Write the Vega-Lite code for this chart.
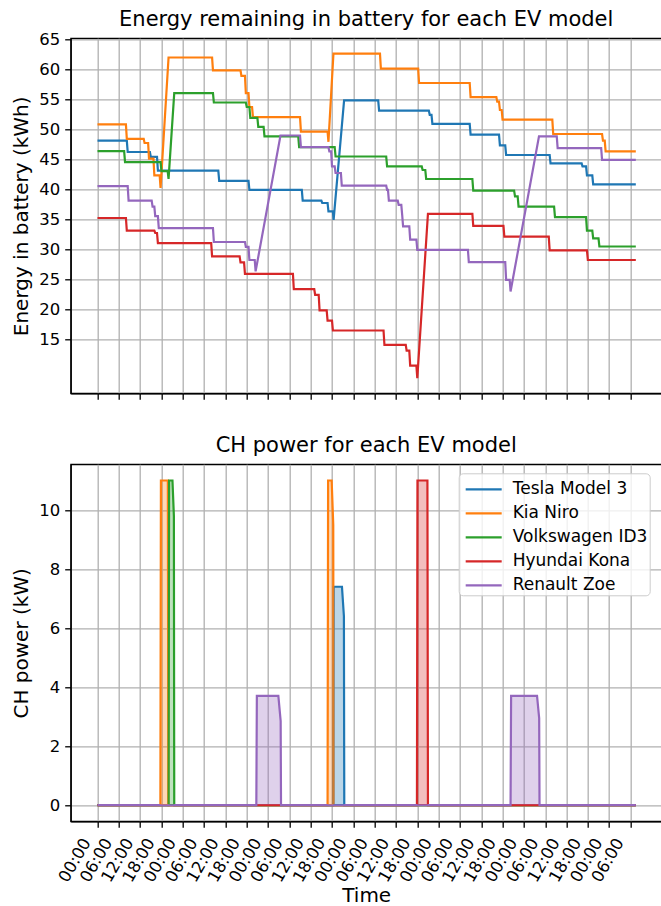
{
  "$schema": "https://vega.github.io/schema/vega-lite/v6.json",
  "background": "white",
  "padding": {"left": 10.7, "top": 7.3, "right": 0, "bottom": 0},
  "config": {
    "font": "DejaVu Sans",
    "view": {"stroke": "black", "strokeWidth": 1.3},
    "axis": {
      "domainColor": "black", "domainWidth": 1.3,
      "tickColor": "black", "tickWidth": 1.3, "tickSize": 6,
      "labelFont": "DejaVu Sans", "labelFontSize": 16.5, "labelColor": "black", "labelPadding": 5,
      "titleFont": "DejaVu Sans", "titleFontSize": 20, "titleFontWeight": "normal", "titleColor": "black",
      "gridColor": "#b0b0b0", "gridWidth": 1.3, "gridOpacity": 1
    },
    "axisY": {"titlePadding": 7},
    "title": {"font": "DejaVu Sans", "fontSize": 21, "fontWeight": "normal", "color": "black", "baseline": "alphabetic", "frame": "group"},
    "concat": {"spacing": 33}
  },
  "datasets": {
    "energy": [
      {"model": "Tesla Model 3", "hour": 0, "kwh": 48.2},
      {"model": "Tesla Model 3", "hour": 8.25, "kwh": 48.2},
      {"model": "Tesla Model 3", "hour": 8.5, "kwh": 46.3},
      {"model": "Tesla Model 3", "hour": 14.75, "kwh": 46.3},
      {"model": "Tesla Model 3", "hour": 15.0, "kwh": 45.5},
      {"model": "Tesla Model 3", "hour": 16.75, "kwh": 45.5},
      {"model": "Tesla Model 3", "hour": 17.0, "kwh": 43.2},
      {"model": "Tesla Model 3", "hour": 34.0, "kwh": 43.2},
      {"model": "Tesla Model 3", "hour": 34.25, "kwh": 41.5},
      {"model": "Tesla Model 3", "hour": 42.5, "kwh": 41.5},
      {"model": "Tesla Model 3", "hour": 42.75, "kwh": 40.0},
      {"model": "Tesla Model 3", "hour": 57.5, "kwh": 40.0},
      {"model": "Tesla Model 3", "hour": 57.75, "kwh": 38.2},
      {"model": "Tesla Model 3", "hour": 63.0, "kwh": 38.2},
      {"model": "Tesla Model 3", "hour": 63.25, "kwh": 37.8},
      {"model": "Tesla Model 3", "hour": 64.75, "kwh": 37.8},
      {"model": "Tesla Model 3", "hour": 65.0, "kwh": 36.4},
      {"model": "Tesla Model 3", "hour": 66.25, "kwh": 36.4},
      {"model": "Tesla Model 3", "hour": 66.45, "kwh": 35.0},
      {"model": "Tesla Model 3", "hour": 69.4, "kwh": 54.9},
      {"model": "Tesla Model 3", "hour": 79.0, "kwh": 54.9},
      {"model": "Tesla Model 3", "hour": 79.25, "kwh": 53.2},
      {"model": "Tesla Model 3", "hour": 93.25, "kwh": 53.2},
      {"model": "Tesla Model 3", "hour": 93.5, "kwh": 52.5},
      {"model": "Tesla Model 3", "hour": 94.0, "kwh": 52.5},
      {"model": "Tesla Model 3", "hour": 94.25, "kwh": 51.0},
      {"model": "Tesla Model 3", "hour": 104.75, "kwh": 51.0},
      {"model": "Tesla Model 3", "hour": 105.0, "kwh": 49.2},
      {"model": "Tesla Model 3", "hour": 113.0, "kwh": 49.2},
      {"model": "Tesla Model 3", "hour": 113.25, "kwh": 47.4},
      {"model": "Tesla Model 3", "hour": 114.75, "kwh": 47.4},
      {"model": "Tesla Model 3", "hour": 115.0, "kwh": 45.8},
      {"model": "Tesla Model 3", "hour": 127.25, "kwh": 45.8},
      {"model": "Tesla Model 3", "hour": 127.5, "kwh": 44.4},
      {"model": "Tesla Model 3", "hour": 136.25, "kwh": 44.4},
      {"model": "Tesla Model 3", "hour": 136.5, "kwh": 43.9},
      {"model": "Tesla Model 3", "hour": 137.5, "kwh": 43.9},
      {"model": "Tesla Model 3", "hour": 137.75, "kwh": 42.4},
      {"model": "Tesla Model 3", "hour": 139.25, "kwh": 42.4},
      {"model": "Tesla Model 3", "hour": 139.5, "kwh": 40.9},
      {"model": "Tesla Model 3", "hour": 151.5, "kwh": 40.9},

      {"model": "Kia Niro", "hour": 0, "kwh": 50.9},
      {"model": "Kia Niro", "hour": 8.0, "kwh": 50.9},
      {"model": "Kia Niro", "hour": 8.25, "kwh": 48.5},
      {"model": "Kia Niro", "hour": 13.0, "kwh": 48.5},
      {"model": "Kia Niro", "hour": 13.25, "kwh": 47.8},
      {"model": "Kia Niro", "hour": 14.25, "kwh": 47.8},
      {"model": "Kia Niro", "hour": 14.5, "kwh": 45.2},
      {"model": "Kia Niro", "hour": 15.75, "kwh": 45.2},
      {"model": "Kia Niro", "hour": 16.0, "kwh": 42.4},
      {"model": "Kia Niro", "hour": 17.5, "kwh": 42.4},
      {"model": "Kia Niro", "hour": 17.75, "kwh": 40.3},
      {"model": "Kia Niro", "hour": 20.0, "kwh": 62.05},
      {"model": "Kia Niro", "hour": 32.25, "kwh": 62.05},
      {"model": "Kia Niro", "hour": 32.5, "kwh": 59.9},
      {"model": "Kia Niro", "hour": 40.25, "kwh": 59.9},
      {"model": "Kia Niro", "hour": 40.5, "kwh": 59.0},
      {"model": "Kia Niro", "hour": 41.5, "kwh": 59.0},
      {"model": "Kia Niro", "hour": 41.75, "kwh": 56.1},
      {"model": "Kia Niro", "hour": 42.5, "kwh": 56.1},
      {"model": "Kia Niro", "hour": 42.75, "kwh": 53.8},
      {"model": "Kia Niro", "hour": 43.5, "kwh": 53.8},
      {"model": "Kia Niro", "hour": 43.75, "kwh": 52.1},
      {"model": "Kia Niro", "hour": 57.0, "kwh": 52.1},
      {"model": "Kia Niro", "hour": 57.25, "kwh": 49.7},
      {"model": "Kia Niro", "hour": 64.75, "kwh": 49.7},
      {"model": "Kia Niro", "hour": 65.0, "kwh": 48.0},
      {"model": "Kia Niro", "hour": 66.4, "kwh": 62.7},
      {"model": "Kia Niro", "hour": 79.5, "kwh": 62.7},
      {"model": "Kia Niro", "hour": 79.75, "kwh": 60.2},
      {"model": "Kia Niro", "hour": 90.25, "kwh": 60.2},
      {"model": "Kia Niro", "hour": 90.5, "kwh": 57.8},
      {"model": "Kia Niro", "hour": 104.75, "kwh": 57.8},
      {"model": "Kia Niro", "hour": 105.0, "kwh": 55.45},
      {"model": "Kia Niro", "hour": 112.25, "kwh": 55.45},
      {"model": "Kia Niro", "hour": 112.5, "kwh": 54.7},
      {"model": "Kia Niro", "hour": 113.0, "kwh": 54.7},
      {"model": "Kia Niro", "hour": 113.25, "kwh": 53.3},
      {"model": "Kia Niro", "hour": 113.75, "kwh": 53.3},
      {"model": "Kia Niro", "hour": 114.0, "kwh": 51.7},
      {"model": "Kia Niro", "hour": 128.0, "kwh": 51.7},
      {"model": "Kia Niro", "hour": 128.25, "kwh": 49.3},
      {"model": "Kia Niro", "hour": 142.0, "kwh": 49.3},
      {"model": "Kia Niro", "hour": 142.25, "kwh": 48.2},
      {"model": "Kia Niro", "hour": 142.75, "kwh": 48.2},
      {"model": "Kia Niro", "hour": 143.0, "kwh": 46.4},
      {"model": "Kia Niro", "hour": 151.5, "kwh": 46.4},

      {"model": "Volkswagen ID3", "hour": 0, "kwh": 46.45},
      {"model": "Volkswagen ID3", "hour": 7.5, "kwh": 46.45},
      {"model": "Volkswagen ID3", "hour": 7.75, "kwh": 44.6},
      {"model": "Volkswagen ID3", "hour": 17.75, "kwh": 44.6},
      {"model": "Volkswagen ID3", "hour": 18.0, "kwh": 43.1},
      {"model": "Volkswagen ID3", "hour": 19.75, "kwh": 43.1},
      {"model": "Volkswagen ID3", "hour": 20.0, "kwh": 41.8},
      {"model": "Volkswagen ID3", "hour": 21.6, "kwh": 56.1},
      {"model": "Volkswagen ID3", "hour": 32.5, "kwh": 56.1},
      {"model": "Volkswagen ID3", "hour": 32.75, "kwh": 54.55},
      {"model": "Volkswagen ID3", "hour": 41.75, "kwh": 54.55},
      {"model": "Volkswagen ID3", "hour": 42.0, "kwh": 53.8},
      {"model": "Volkswagen ID3", "hour": 42.75, "kwh": 53.8},
      {"model": "Volkswagen ID3", "hour": 43.0, "kwh": 52.0},
      {"model": "Volkswagen ID3", "hour": 45.0, "kwh": 52.0},
      {"model": "Volkswagen ID3", "hour": 45.25, "kwh": 50.5},
      {"model": "Volkswagen ID3", "hour": 46.75, "kwh": 50.5},
      {"model": "Volkswagen ID3", "hour": 47.0, "kwh": 48.9},
      {"model": "Volkswagen ID3", "hour": 56.5, "kwh": 48.9},
      {"model": "Volkswagen ID3", "hour": 56.75, "kwh": 47.1},
      {"model": "Volkswagen ID3", "hour": 66.75, "kwh": 47.1},
      {"model": "Volkswagen ID3", "hour": 67.0, "kwh": 45.55},
      {"model": "Volkswagen ID3", "hour": 81.25, "kwh": 45.55},
      {"model": "Volkswagen ID3", "hour": 81.5, "kwh": 43.9},
      {"model": "Volkswagen ID3", "hour": 91.25, "kwh": 43.9},
      {"model": "Volkswagen ID3", "hour": 91.5, "kwh": 43.3},
      {"model": "Volkswagen ID3", "hour": 92.25, "kwh": 43.3},
      {"model": "Volkswagen ID3", "hour": 92.5, "kwh": 41.8},
      {"model": "Volkswagen ID3", "hour": 105.5, "kwh": 41.8},
      {"model": "Volkswagen ID3", "hour": 105.75, "kwh": 39.85},
      {"model": "Volkswagen ID3", "hour": 117.25, "kwh": 39.85},
      {"model": "Volkswagen ID3", "hour": 117.5, "kwh": 38.9},
      {"model": "Volkswagen ID3", "hour": 118.25, "kwh": 38.9},
      {"model": "Volkswagen ID3", "hour": 118.5, "kwh": 37.2},
      {"model": "Volkswagen ID3", "hour": 128.5, "kwh": 37.2},
      {"model": "Volkswagen ID3", "hour": 128.75, "kwh": 35.45},
      {"model": "Volkswagen ID3", "hour": 137.5, "kwh": 35.45},
      {"model": "Volkswagen ID3", "hour": 137.75, "kwh": 33.2},
      {"model": "Volkswagen ID3", "hour": 139.25, "kwh": 33.2},
      {"model": "Volkswagen ID3", "hour": 139.5, "kwh": 31.9},
      {"model": "Volkswagen ID3", "hour": 141.0, "kwh": 31.9},
      {"model": "Volkswagen ID3", "hour": 141.25, "kwh": 30.55},
      {"model": "Volkswagen ID3", "hour": 151.5, "kwh": 30.55},

      {"model": "Hyundai Kona", "hour": 0, "kwh": 35.3},
      {"model": "Hyundai Kona", "hour": 8.0, "kwh": 35.3},
      {"model": "Hyundai Kona", "hour": 8.25, "kwh": 33.2},
      {"model": "Hyundai Kona", "hour": 16.0, "kwh": 33.2},
      {"model": "Hyundai Kona", "hour": 16.25, "kwh": 32.8},
      {"model": "Hyundai Kona", "hour": 16.75, "kwh": 32.8},
      {"model": "Hyundai Kona", "hour": 17.0, "kwh": 31.1},
      {"model": "Hyundai Kona", "hour": 32.0, "kwh": 31.1},
      {"model": "Hyundai Kona", "hour": 32.25, "kwh": 28.9},
      {"model": "Hyundai Kona", "hour": 40.0, "kwh": 28.9},
      {"model": "Hyundai Kona", "hour": 40.25, "kwh": 27.9},
      {"model": "Hyundai Kona", "hour": 41.25, "kwh": 27.9},
      {"model": "Hyundai Kona", "hour": 41.5, "kwh": 26.0},
      {"model": "Hyundai Kona", "hour": 55.0, "kwh": 26.0},
      {"model": "Hyundai Kona", "hour": 55.25, "kwh": 23.45},
      {"model": "Hyundai Kona", "hour": 61.0, "kwh": 23.45},
      {"model": "Hyundai Kona", "hour": 61.25, "kwh": 22.5},
      {"model": "Hyundai Kona", "hour": 62.25, "kwh": 22.5},
      {"model": "Hyundai Kona", "hour": 62.5, "kwh": 19.9},
      {"model": "Hyundai Kona", "hour": 64.5, "kwh": 19.9},
      {"model": "Hyundai Kona", "hour": 64.75, "kwh": 18.2},
      {"model": "Hyundai Kona", "hour": 66.0, "kwh": 18.2},
      {"model": "Hyundai Kona", "hour": 66.25, "kwh": 16.55},
      {"model": "Hyundai Kona", "hour": 80.5, "kwh": 16.55},
      {"model": "Hyundai Kona", "hour": 80.75, "kwh": 14.15},
      {"model": "Hyundai Kona", "hour": 86.75, "kwh": 14.15},
      {"model": "Hyundai Kona", "hour": 87.0, "kwh": 13.2},
      {"model": "Hyundai Kona", "hour": 87.75, "kwh": 13.2},
      {"model": "Hyundai Kona", "hour": 88.0, "kwh": 10.7},
      {"model": "Hyundai Kona", "hour": 89.75, "kwh": 10.7},
      {"model": "Hyundai Kona", "hour": 90.0, "kwh": 8.6},
      {"model": "Hyundai Kona", "hour": 93.0, "kwh": 36.0},
      {"model": "Hyundai Kona", "hour": 105.5, "kwh": 36.0},
      {"model": "Hyundai Kona", "hour": 105.75, "kwh": 34.0},
      {"model": "Hyundai Kona", "hour": 114.25, "kwh": 34.0},
      {"model": "Hyundai Kona", "hour": 114.5, "kwh": 32.2},
      {"model": "Hyundai Kona", "hour": 127.0, "kwh": 32.2},
      {"model": "Hyundai Kona", "hour": 127.25, "kwh": 29.9},
      {"model": "Hyundai Kona", "hour": 137.75, "kwh": 29.9},
      {"model": "Hyundai Kona", "hour": 138.0, "kwh": 28.3},
      {"model": "Hyundai Kona", "hour": 151.5, "kwh": 28.3},

      {"model": "Renault Zoe", "hour": 0, "kwh": 40.6},
      {"model": "Renault Zoe", "hour": 8.5, "kwh": 40.6},
      {"model": "Renault Zoe", "hour": 8.75, "kwh": 38.2},
      {"model": "Renault Zoe", "hour": 15.25, "kwh": 38.2},
      {"model": "Renault Zoe", "hour": 15.5, "kwh": 37.2},
      {"model": "Renault Zoe", "hour": 16.0, "kwh": 37.2},
      {"model": "Renault Zoe", "hour": 16.25, "kwh": 35.6},
      {"model": "Renault Zoe", "hour": 17.0, "kwh": 35.6},
      {"model": "Renault Zoe", "hour": 17.25, "kwh": 33.6},
      {"model": "Renault Zoe", "hour": 32.5, "kwh": 33.6},
      {"model": "Renault Zoe", "hour": 32.75, "kwh": 31.3},
      {"model": "Renault Zoe", "hour": 41.5, "kwh": 31.3},
      {"model": "Renault Zoe", "hour": 41.75, "kwh": 30.5},
      {"model": "Renault Zoe", "hour": 42.5, "kwh": 30.5},
      {"model": "Renault Zoe", "hour": 42.75, "kwh": 28.3},
      {"model": "Renault Zoe", "hour": 44.25, "kwh": 28.3},
      {"model": "Renault Zoe", "hour": 44.5, "kwh": 26.4},
      {"model": "Renault Zoe", "hour": 51.5, "kwh": 49.05},
      {"model": "Renault Zoe", "hour": 57.0, "kwh": 49.05},
      {"model": "Renault Zoe", "hour": 57.25, "kwh": 47.1},
      {"model": "Renault Zoe", "hour": 65.0, "kwh": 47.1},
      {"model": "Renault Zoe", "hour": 65.25, "kwh": 46.4},
      {"model": "Renault Zoe", "hour": 65.75, "kwh": 46.4},
      {"model": "Renault Zoe", "hour": 66.0, "kwh": 43.9},
      {"model": "Renault Zoe", "hour": 66.75, "kwh": 43.9},
      {"model": "Renault Zoe", "hour": 67.0, "kwh": 42.8},
      {"model": "Renault Zoe", "hour": 68.5, "kwh": 42.8},
      {"model": "Renault Zoe", "hour": 68.75, "kwh": 40.7},
      {"model": "Renault Zoe", "hour": 81.25, "kwh": 40.7},
      {"model": "Renault Zoe", "hour": 81.5, "kwh": 40.0},
      {"model": "Renault Zoe", "hour": 81.75, "kwh": 40.0},
      {"model": "Renault Zoe", "hour": 82.0, "kwh": 38.2},
      {"model": "Renault Zoe", "hour": 84.5, "kwh": 38.2},
      {"model": "Renault Zoe", "hour": 84.75, "kwh": 37.5},
      {"model": "Renault Zoe", "hour": 85.5, "kwh": 37.5},
      {"model": "Renault Zoe", "hour": 85.75, "kwh": 35.8},
      {"model": "Renault Zoe", "hour": 86.0, "kwh": 33.9},
      {"model": "Renault Zoe", "hour": 87.75, "kwh": 33.9},
      {"model": "Renault Zoe", "hour": 88.0, "kwh": 31.7},
      {"model": "Renault Zoe", "hour": 89.75, "kwh": 31.7},
      {"model": "Renault Zoe", "hour": 90.0, "kwh": 30.0},
      {"model": "Renault Zoe", "hour": 104.25, "kwh": 30.0},
      {"model": "Renault Zoe", "hour": 104.5, "kwh": 27.95},
      {"model": "Renault Zoe", "hour": 114.75, "kwh": 27.95},
      {"model": "Renault Zoe", "hour": 115.0, "kwh": 25.0},
      {"model": "Renault Zoe", "hour": 116.0, "kwh": 25.0},
      {"model": "Renault Zoe", "hour": 116.25, "kwh": 23.05},
      {"model": "Renault Zoe", "hour": 124.25, "kwh": 48.9},
      {"model": "Renault Zoe", "hour": 129.25, "kwh": 48.9},
      {"model": "Renault Zoe", "hour": 129.5, "kwh": 46.95},
      {"model": "Renault Zoe", "hour": 141.75, "kwh": 46.95},
      {"model": "Renault Zoe", "hour": 142.0, "kwh": 45.0},
      {"model": "Renault Zoe", "hour": 151.5, "kwh": 45.0}
    ],
    "power": [
      {"model": "Tesla Model 3", "hour": 0, "kw": 0},
      {"model": "Tesla Model 3", "hour": 66.3, "kw": 0},
      {"model": "Tesla Model 3", "hour": 66.45, "kw": 7.4},
      {"model": "Tesla Model 3", "hour": 68.8, "kw": 7.4},
      {"model": "Tesla Model 3", "hour": 69.35, "kw": 6.4},
      {"model": "Tesla Model 3", "hour": 69.45, "kw": 0},
      {"model": "Tesla Model 3", "hour": 151.5, "kw": 0},

      {"model": "Kia Niro", "hour": 0, "kw": 0},
      {"model": "Kia Niro", "hour": 17.7, "kw": 0},
      {"model": "Kia Niro", "hour": 17.85, "kw": 11},
      {"model": "Kia Niro", "hour": 19.8, "kw": 11},
      {"model": "Kia Niro", "hour": 19.95, "kw": 0},
      {"model": "Kia Niro", "hour": 64.75, "kw": 0},
      {"model": "Kia Niro", "hour": 64.9, "kw": 11},
      {"model": "Kia Niro", "hour": 65.9, "kw": 11},
      {"model": "Kia Niro", "hour": 66.35, "kw": 9.5},
      {"model": "Kia Niro", "hour": 66.45, "kw": 0},
      {"model": "Kia Niro", "hour": 151.5, "kw": 0},

      {"model": "Volkswagen ID3", "hour": 0, "kw": 0},
      {"model": "Volkswagen ID3", "hour": 20.0, "kw": 0},
      {"model": "Volkswagen ID3", "hour": 20.15, "kw": 11},
      {"model": "Volkswagen ID3", "hour": 21.1, "kw": 11},
      {"model": "Volkswagen ID3", "hour": 21.5, "kw": 9.8},
      {"model": "Volkswagen ID3", "hour": 21.6, "kw": 0},
      {"model": "Volkswagen ID3", "hour": 151.5, "kw": 0},

      {"model": "Hyundai Kona", "hour": 0, "kw": 0},
      {"model": "Hyundai Kona", "hour": 89.9, "kw": 0},
      {"model": "Hyundai Kona", "hour": 90.05, "kw": 11},
      {"model": "Hyundai Kona", "hour": 92.85, "kw": 11},
      {"model": "Hyundai Kona", "hour": 93.0, "kw": 0},
      {"model": "Hyundai Kona", "hour": 151.5, "kw": 0},

      {"model": "Renault Zoe", "hour": 0, "kw": 0},
      {"model": "Renault Zoe", "hour": 44.7, "kw": 0},
      {"model": "Renault Zoe", "hour": 44.85, "kw": 3.7},
      {"model": "Renault Zoe", "hour": 50.9, "kw": 3.7},
      {"model": "Renault Zoe", "hour": 51.55, "kw": 2.85},
      {"model": "Renault Zoe", "hour": 51.65, "kw": 0},
      {"model": "Renault Zoe", "hour": 116.25, "kw": 0},
      {"model": "Renault Zoe", "hour": 116.4, "kw": 3.7},
      {"model": "Renault Zoe", "hour": 123.7, "kw": 3.7},
      {"model": "Renault Zoe", "hour": 124.3, "kw": 2.95},
      {"model": "Renault Zoe", "hour": 124.4, "kw": 0},
      {"model": "Renault Zoe", "hour": 151.5, "kw": 0}
    ]
  },
  "resolve": {"legend": {"color": "independent"}},
  "vconcat": [
    {
      "title": {"text": "Energy remaining in battery for each EV model", "offset": 2},
      "width": 591,
      "height": 355,
      "data": {"name": "energy"},
      "mark": {"type": "line", "strokeWidth": 2.2},
      "encoding": {
        "x": {
          "field": "hour", "type": "quantitative",
          "scale": {"domain": [-7.54, 158.78], "nice": false, "zero": false},
          "axis": {"values": [0, 6, 12, 18, 24, 30, 36, 42, 48, 54, 60, 66, 72, 78, 84, 90, 96, 102, 108, 114, 120, 126, 132, 138, 144, 150], "labels": false, "title": null}
        },
        "y": {
          "field": "kwh", "type": "quantitative",
          "scale": {"domain": [6.08, 65.25], "nice": false, "zero": false},
          "axis": {"values": [15, 20, 25, 30, 35, 40, 45, 50, 55, 60, 65], "title": "Energy in battery (kWh)"}
        },
        "color": {
          "field": "model", "type": "nominal",
          "scale": {"domain": ["Tesla Model 3", "Kia Niro", "Volkswagen ID3", "Hyundai Kona", "Renault Zoe"], "range": ["#1f77b4", "#ff7f0e", "#2ca02c", "#d62728", "#9467bd"]},
          "legend": null
        }
      }
    },
    {
      "title": {"text": "CH power for each EV model", "offset": 8.3},
      "width": 591,
      "height": 357,
      "data": {"name": "power"},
      "encoding": {
        "x": {
          "field": "hour", "type": "quantitative",
          "scale": {"domain": [-7.54, 158.78], "nice": false, "zero": false},
          "axis": {
            "values": [0, 6, 12, 18, 24, 30, 36, 42, 48, 54, 60, 66, 72, 78, 84, 90, 96, 102, 108, 114, 120, 126, 132, 138, 144, 150],
            "labelExpr": "(datum.value % 24 < 10 ? '0' : '') + (datum.value % 24) + ':00'",
            "labelAngle": -60, "labelAlign": "right", "labelBaseline": "middle", "labelPadding": 12, "labelOffset": -11,
            "labelOverlap": false, "titlePadding": 1,
            "title": "Time"
          }
        },
        "y": {
          "field": "kw", "type": "quantitative",
          "scale": {"domain": [-0.55, 11.55], "nice": false, "zero": false},
          "axis": {"values": [0, 2, 4, 6, 8, 10], "title": "CH power (kW)"}
        }
      },
      "layer": [
        {
          "mark": {"type": "line", "strokeWidth": 2.2},
          "encoding": {
            "color": {"field": "model", "type": "nominal",
              "scale": {"domain": ["Tesla Model 3", "Kia Niro", "Volkswagen ID3", "Hyundai Kona", "Renault Zoe"], "range": ["#1f77b4", "#ff7f0e", "#2ca02c", "#d62728", "#9467bd"]},
              "legend": {
                "orient": "none", "legendX": 388, "legendY": 9,
                "title": null,
                "symbolType": "M-1.44,0H1.44", "symbolSize": 625, "symbolStrokeWidth": 2.2, "symbolOpacity": 1,
                "labelFont": "DejaVu Sans", "labelFontSize": 17, "labelColor": "black",
                "padding": 2, "symbolOffset": 9, "labelOffset": 15, "rowPadding": 2,
                "fillColor": "rgba(255,255,255,0.8)", "strokeColor": "#cccccc", "cornerRadius": 4
              }
            }
          }
        },
        {
          "mark": {"type": "area", "fillOpacity": 0.3},
          "encoding": {
            "y": {"field": "kw", "type": "quantitative", "stack": null},
            "y2": {"datum": 0},
            "color": {"field": "model", "type": "nominal",
              "scale": {"domain": ["Tesla Model 3", "Kia Niro", "Volkswagen ID3", "Hyundai Kona", "Renault Zoe"], "range": ["#1f77b4", "#ff7f0e", "#2ca02c", "#d62728", "#9467bd"]}}
          }
        }
      ]
    }
  ]
}
